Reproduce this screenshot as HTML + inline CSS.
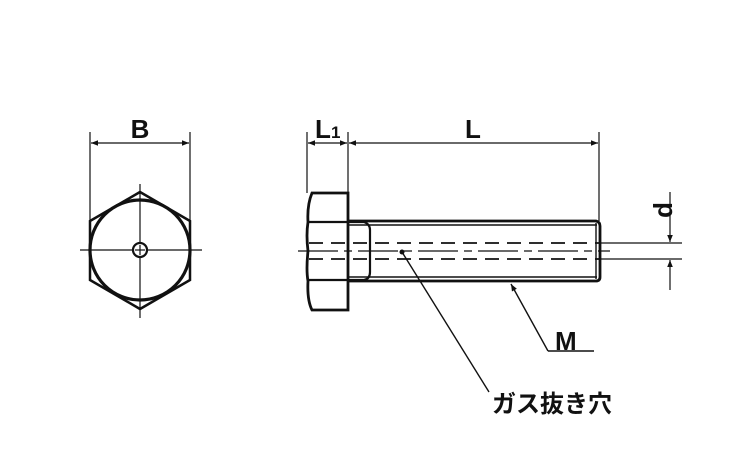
<!DOCTYPE html>
<html><head><meta charset="utf-8"><style>
html,body{margin:0;padding:0;background:#fff;width:750px;height:450px;overflow:hidden}
svg{display:block}
text{font-family:"Liberation Sans","Noto Sans CJK JP",sans-serif;fill:#111;font-weight:bold}
</style></head><body>
<svg width="750" height="450" viewBox="0 0 750 450" xmlns="http://www.w3.org/2000/svg">
<defs>
<marker id="a" viewBox="0 0 10 10" refX="10" refY="5" markerWidth="10" markerHeight="7" orient="auto-start-reverse" markerUnits="userSpaceOnUse"><path d="M0,1 L10,5 L0,9 z" fill="#111"/></marker>
</defs>
<g stroke="#111" fill="none">
<line x1="90" y1="132" x2="90" y2="222" stroke-width="1.2"/>
<line x1="190" y1="132" x2="190" y2="222" stroke-width="1.2"/>
<line x1="91" y1="143" x2="189" y2="143" stroke-width="1.2" marker-start="url(#a)" marker-end="url(#a)"/>
<polygon points="140,192 190,221 190,280 140,309 90,280 90,221" stroke-width="2.5"/>
<circle cx="140" cy="250" r="50" stroke-width="3.2"/>
<line x1="80" y1="250" x2="202" y2="250" stroke-width="1.2"/>
<line x1="140" y1="184" x2="140" y2="318" stroke-width="1.2"/>
<circle cx="140" cy="250" r="7" stroke-width="2.2" fill="#fff"/>
<line x1="135" y1="250" x2="145" y2="250" stroke-width="1.2"/>
<line x1="140" y1="245" x2="140" y2="255" stroke-width="1.2"/>
<line x1="307" y1="132" x2="307" y2="193" stroke-width="1.2"/>
<line x1="348" y1="132" x2="348" y2="193" stroke-width="1.2"/>
<line x1="599" y1="132" x2="599" y2="221" stroke-width="1.2"/>
<line x1="308" y1="143" x2="347" y2="143" stroke-width="1.2" marker-start="url(#a)" marker-end="url(#a)"/>
<line x1="349" y1="143" x2="598" y2="143" stroke-width="1.2" marker-start="url(#a)" marker-end="url(#a)"/>
<path d="M312,193 H348 V310 H312 Q307,300 308,281 Q306,270 308,251 Q306,235 308,222 Q307,205 312,193 Z" stroke-width="2.8"/>
<line x1="308" y1="222" x2="348" y2="222" stroke-width="2.2"/>
<line x1="308" y1="280" x2="348" y2="280" stroke-width="2.2"/>
<path d="M348,221 H596 Q600,222 600,226 V277 Q600,281 596,281 H348" stroke-width="2.8"/>
<line x1="348" y1="225" x2="597" y2="225" stroke-width="1.4"/>
<line x1="348" y1="277" x2="597" y2="277" stroke-width="1.4"/>
<path d="M348,222 H364 Q370,224 370,230 V272 Q370,279 364,280 H348" stroke-width="2.2"/>
<line x1="596" y1="223" x2="596" y2="279" stroke-width="1.4"/>
<line x1="309" y1="243" x2="600" y2="243" stroke-width="1.8" stroke-dasharray="14,8"/>
<line x1="309" y1="259" x2="600" y2="259" stroke-width="1.8" stroke-dasharray="14,8"/>
<line x1="298" y1="251" x2="610" y2="251" stroke-width="1.2" stroke-dasharray="40,6,8,6"/>
<line x1="600" y1="243" x2="682" y2="243" stroke-width="1.2"/>
<line x1="600" y1="259" x2="682" y2="259" stroke-width="1.2"/>
<line x1="670" y1="192" x2="670" y2="242" stroke-width="1.2" marker-end="url(#a)"/>
<line x1="670" y1="290" x2="670" y2="260" stroke-width="1.2" marker-end="url(#a)"/>
<line x1="548" y1="351" x2="511" y2="284" stroke-width="1.4" marker-end="url(#a)"/>
<line x1="548" y1="351" x2="594" y2="351" stroke-width="1.4"/>
<line x1="402" y1="252" x2="489" y2="392" stroke-width="1.4"/>
</g>
<circle cx="402" cy="252" r="2.5" fill="#111"/>
<text x="140" y="138" font-size="26" text-anchor="middle">B</text>
<text x="315" y="138" font-size="26">L</text><text x="331" y="138" font-size="17">1</text>
<text x="473" y="138" font-size="26" text-anchor="middle">L</text>
<text x="555" y="350" font-size="26">M</text>
<text x="663" y="210" font-size="26" text-anchor="middle" transform="rotate(-90 663 210)" dy="9">d</text>
<text x="492" y="412" font-size="24">ガス抜き穴</text>
</svg>
</body></html>
